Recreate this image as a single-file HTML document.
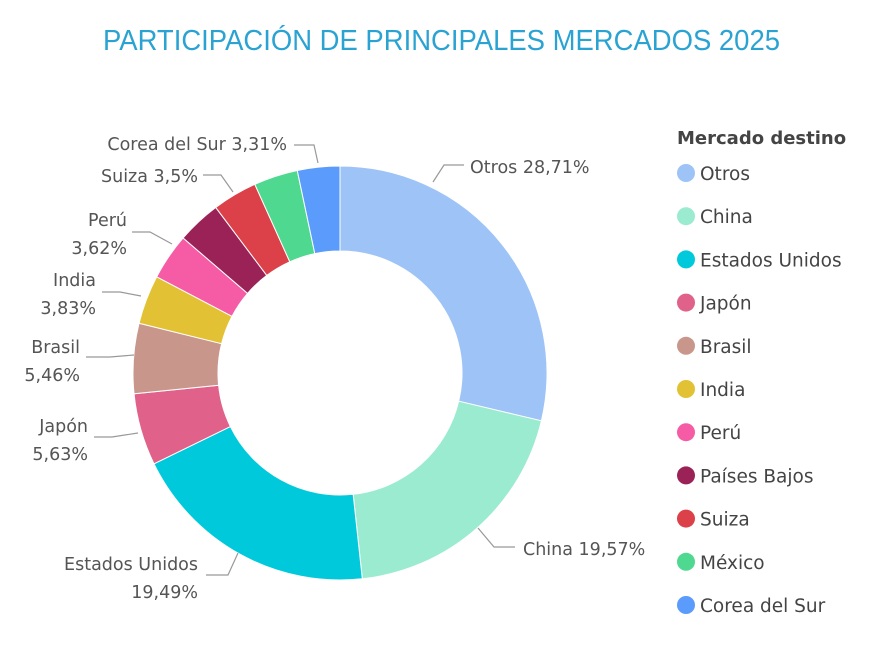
<!DOCTYPE html>
<html><head><meta charset="utf-8"><style>
body{margin:0;background:#fff;width:885px;height:641px;overflow:hidden;font-family:"DejaVu Sans",sans-serif}
</style></head><body>
<svg width="885" height="641" xmlns="http://www.w3.org/2000/svg" id="s">
<text x="103" y="50" textLength="677" lengthAdjust="spacingAndGlyphs" font-family="Liberation Sans, sans-serif" font-size="29" fill="#2AA3D3">PARTICIPACIÓN DE PRINCIPALES MERCADOS 2025</text>
<g id="pie"></g>
<g font-family="DejaVu Sans, sans-serif" font-size="17.5" fill="#555">
<text x="470" y="173">Otros 28,71%</text>
<text x="523" y="555">China 19,57%</text>
<text x="198" y="570" text-anchor="end">Estados Unidos</text>
<text x="198" y="598" text-anchor="end">19,49%</text>
<text x="88" y="432" text-anchor="end">Japón</text>
<text x="88" y="460" text-anchor="end">5,63%</text>
<text x="80" y="353" text-anchor="end">Brasil</text>
<text x="80" y="381" text-anchor="end">5,46%</text>
<text x="96" y="286" text-anchor="end">India</text>
<text x="96" y="314" text-anchor="end">3,83%</text>
<text x="127" y="226" text-anchor="end">Perú</text>
<text x="127" y="254" text-anchor="end">3,62%</text>
<text x="198" y="182" text-anchor="end">Suiza 3,5%</text>
<text x="287" y="150" text-anchor="end">Corea del Sur 3,31%</text>
</g>
<g stroke="#999" fill="none" stroke-width="1.2">
<polyline points="433,182 444,165 464,165"/>
<polyline points="478,528 494,547 515,547"/>
<polyline points="238,553 228,575 206,575"/>
<polyline points="138,433 112,437 94,437"/>
<polyline points="134,355 110,357 86,357"/>
<polyline points="141,296 120,292 102,292"/>
<polyline points="172,244 150,232 132,232"/>
<polyline points="233,192 221,175 203,175"/>
<polyline points="318,163 314,145 294,145"/>
</g>
<text x="677" y="144" font-family="DejaVu Sans, sans-serif" font-size="18" font-weight="bold" fill="#444">Mercado destino</text>
<g id="leg" font-family="DejaVu Sans, sans-serif" font-size="18.5" fill="#444"></g>
</svg>
<script>
var d=[["Otros",28.71,"#9DC3F7"],["China",19.57,"#9AEBCF"],["Estados Unidos",19.49,"#00C9DC"],["Japón",5.63,"#E0628A"],["Brasil",5.46,"#C9968C"],["India",3.83,"#E2C234"],["Perú",3.62,"#F65BA5"],["Países Bajos",3.44,"#9B2257"],["Suiza",3.5,"#DC4149"],["México",3.44,"#4FD890"],["Corea del Sur",3.31,"#5A9BFB"]];
var tot=0;d.forEach(function(x){tot+=x[1]});
var cx=340,cy=373,R=207,r=122,a=0,h="",l="";
function p(rad,ang){return [cx+rad*Math.sin(ang),cy-rad*Math.cos(ang)]}
d.forEach(function(x,i){var b=a+x[1]/tot*2*Math.PI,lg=(b-a)>Math.PI?1:0;
var A=p(R,a),B=p(R,b),C=p(r,b),D=p(r,a);
h+='<path fill="'+x[2]+'" stroke="#fff" stroke-width="1" d="M'+A+' A'+R+','+R+' 0 '+lg+' 1 '+B+' L'+C+' A'+r+','+r+' 0 '+lg+' 0 '+D+'Z"/>';
a=b;var y=174+i*43.2;
l+='<circle cx="686" cy="'+(y-1)+'" r="9" fill="'+x[2]+'"/><text x="700" y="'+(y+6)+'">'+x[0]+'</text>';});
document.getElementById("pie").innerHTML=h;document.getElementById("leg").innerHTML=l;
</script>
</body></html>
